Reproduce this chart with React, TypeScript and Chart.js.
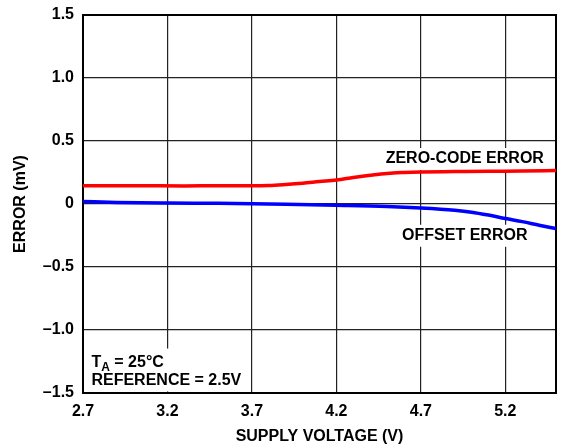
import React, { useEffect, useRef } from "react";
import { Chart, registerables } from "chart.js";

Chart.register(...registerables);

const zeroCodeX = [2.7, 3.0, 3.3, 3.5, 3.7, 3.8, 3.9, 4.0, 4.1, 4.2, 4.3, 4.4, 4.5, 4.6, 4.7, 4.9, 5.1, 5.3, 5.5];
const zeroCodeY = [0.145, 0.145, 0.143, 0.145, 0.145, 0.147, 0.155, 0.165, 0.178, 0.19, 0.21, 0.228, 0.243, 0.25, 0.254, 0.257, 0.26, 0.262, 0.266];

const offsetX = [2.7, 2.9, 3.2, 3.5, 3.7, 3.9, 4.2, 4.5, 4.7, 4.9, 5.0, 5.1, 5.2, 5.3, 5.4, 5.5];
const offsetY = [0.02, 0.012, 0.007, 0.005, 0.002, -0.002, -0.01, -0.02, -0.032, -0.05, -0.065, -0.088, -0.115, -0.14, -0.168, -0.195];

const xTicks = [2.7, 3.2, 3.7, 4.2, 4.7, 5.2];
const yTicks = [-1.5, -1.0, -0.5, 0, 0.5, 1.0, 1.5];

const FONT = "'Liberation Sans', Arial, Helvetica, sans-serif";

const annotationPlugin = {
  id: "annotations",
  beforeDatasetsDraw(chart: any) {
    const { ctx, chartArea, scales } = chart;
    const xs = scales.x;
    const ys = scales.y;
    ctx.save();
    ctx.strokeStyle = "#000";
    ctx.lineWidth = 2;
    ctx.strokeRect(chartArea.left, chartArea.top, chartArea.right - chartArea.left, chartArea.bottom - chartArea.top);

    ctx.fillStyle = "#000";
    ctx.font = `bold 16px ${FONT}`;
    const boxText = (text: string, cx: number, cy: number) => {
      const w = ctx.measureText(text).width;
      ctx.fillStyle = "#fff";
      ctx.fillRect(cx - w / 2 - 3, cy - 11, w + 6, 22);
      ctx.fillStyle = "#000";
      ctx.textAlign = "center";
      ctx.textBaseline = "middle";
      ctx.fillText(text, cx, cy);
    };
    boxText("ZERO-CODE ERROR", xs.getPixelForValue(4.96), ys.getPixelForValue(0.357));
    boxText("OFFSET ERROR", xs.getPixelForValue(4.96), ys.getPixelForValue(-0.252));

    const lx = xs.getPixelForValue(2.75);
    const b1 = ys.getPixelForValue(-1.29);
    const b2 = ys.getPixelForValue(-1.44);
    ctx.font = `bold 16px ${FONT}`;
    const w2 = ctx.measureText("REFERENCE = 2.5V").width;
    ctx.fillStyle = "#fff";
    ctx.fillRect(chartArea.left + 1, b1 - 18, lx - chartArea.left + w2 + 6, b2 - b1 + 24);
    ctx.fillStyle = "#000";
    ctx.textAlign = "left";
    ctx.textBaseline = "alphabetic";
    ctx.fillText("T", lx, b1);
    const tw = ctx.measureText("T").width;
    ctx.font = `bold 12px ${FONT}`;
    ctx.fillText("A", lx + tw, b1 + 4);
    const aw = ctx.measureText("A").width;
    ctx.font = `bold 16px ${FONT}`;
    ctx.fillText(" = 25°C", lx + tw + aw, b1);
    ctx.fillText("REFERENCE = 2.5V", lx, b2);
    ctx.restore();
  },
};

export default function App() {
  const ref = useRef<HTMLCanvasElement | null>(null);
  useEffect(() => {
    document.body.style.margin = "0";
    const canvas = ref.current!;
    const chart = new Chart(canvas, {
      type: "line",
      data: {
        datasets: [
          {
            label: "ZERO-CODE ERROR",
            data: zeroCodeX.map((x, i) => ({ x, y: zeroCodeY[i] })),
            borderColor: "#ff0000",
            borderWidth: 3.5,
            pointRadius: 0,
            tension: 0.4,
            cubicInterpolationMode: "monotone",
          },
          {
            label: "OFFSET ERROR",
            data: offsetX.map((x, i) => ({ x, y: offsetY[i] })),
            borderColor: "#0000ff",
            borderWidth: 3.5,
            pointRadius: 0,
            tension: 0.4,
            cubicInterpolationMode: "monotone",
          },
        ],
      },
      options: {
        animation: false,
        responsive: false,
        events: [],
        layout: { padding: { top: 15, right: 7, left: 0, bottom: 0 } },
        plugins: { legend: { display: false }, tooltip: { enabled: false } },
        scales: {
          x: {
            type: "linear",
            min: 2.7,
            max: 5.5,
            afterBuildTicks: (scale: any) => {
              scale.ticks = xTicks.map((v) => ({ value: v }));
            },
            afterFit: (scale: any) => {
              scale.height = 55;
              scale.paddingLeft = 0;
              scale.paddingRight = 0;
            },
            grid: { color: "#222", lineWidth: 1.2, drawTicks: false },
            border: { display: true, color: "#000", width: 2 },
            ticks: {
              padding: 9,
              color: "#000",
              font: { family: FONT, size: 16, weight: "bold" },
              callback: (v: any) => Number(v).toFixed(1),
            },
            title: {
              display: true,
              text: "SUPPLY VOLTAGE (V)",
              color: "#000",
              font: { family: FONT, size: 16, weight: "bold" },
              padding: { top: 0, bottom: 2 },
            },
          },
          y: {
            type: "linear",
            min: -1.5,
            max: 1.5,
            afterBuildTicks: (scale: any) => {
              scale.ticks = yTicks.map((v) => ({ value: v }));
            },
            afterFit: (scale: any) => {
              scale.width = 83;
              scale.paddingTop = 0;
              scale.paddingBottom = 0;
            },
            grid: { color: "#222", lineWidth: 1.2, drawTicks: false },
            border: { display: true, color: "#000", width: 2 },
            ticks: {
              padding: 9,
              color: "#000",
              font: { family: FONT, size: 16, weight: "bold" },
              callback: (v: any) => {
                const n = Number(v);
                if (Math.abs(n) < 1e-9) return "0";
                return n < 0 ? "\u2013" + Math.abs(n).toFixed(1) : n.toFixed(1);
              },
            },
            title: {
              display: true,
              text: "ERROR (mV)",
              color: "#000",
              font: { family: FONT, size: 16, weight: "bold" },
              padding: { top: 11, bottom: 0 },
            },
          },
        },
      },
      plugins: [annotationPlugin],
    } as any);
    return () => chart.destroy();
  }, []);
  return (
    <div style={{ width: 563, height: 448 }}>
      <canvas ref={ref} width={563} height={448} style={{ width: 563, height: 448, display: "block" }} />
    </div>
  );
}
